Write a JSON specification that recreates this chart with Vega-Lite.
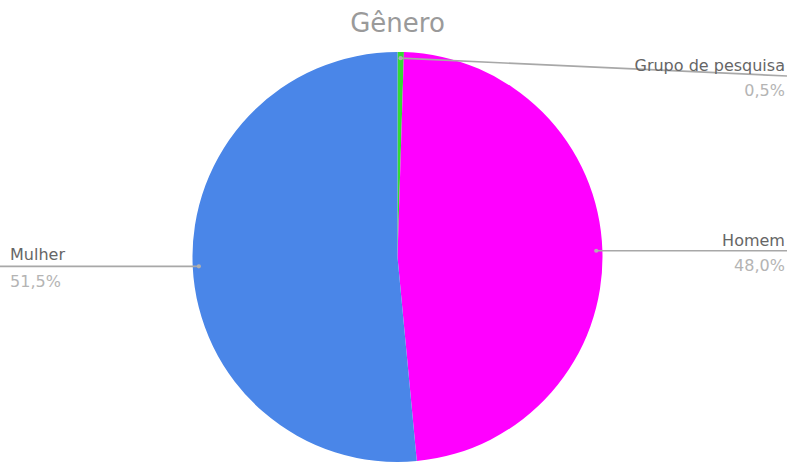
{
  "$schema": "https://vega.github.io/schema/vega-lite/v6.json",
  "width": 787,
  "height": 416,
  "autosize": "none",
  "padding": {"left": 4, "top": 49, "right": 0, "bottom": 0},
  "background": "white",
  "title": {
    "text": "Gênero",
    "font": "DejaVu Sans",
    "fontSize": 26,
    "fontWeight": "normal",
    "color": "#9a9a9a",
    "anchor": "middle",
    "baseline": "alphabetic",
    "offset": -9
  },
  "config": {
    "view": {"stroke": null},
    "locale": {"number": {"decimal": ",", "thousands": ".", "grouping": [3], "currency": ["R$", ""]}}
  },
  "data": {
    "values": [
      {"genero": "Grupo de pesquisa", "v": 0.005},
      {"genero": "Homem", "v": 0.48},
      {"genero": "Mulher", "v": 0.515}
    ]
  },
  "transform": [
    {"window": [{"op": "sum", "field": "v", "as": "cum"}], "sort": [{"field": "genero", "order": "ascending"}], "frame": [null, 0]},
    {"calculate": "(datum.cum - datum.v / 2) * 2 * PI", "as": "ang"},
    {"calculate": "0.97 * sin(datum.ang)", "as": "px"},
    {"calculate": "0.97 * cos(datum.ang)", "as": "py"},
    {"calculate": "min(datum.py, 0.883)", "as": "ly"},
    {"calculate": "datum.px >= 0 ? 1.9 : -1.939", "as": "ex"},
    {"calculate": "datum.px >= 0 ? 1.89 : -1.89", "as": "tx"}
  ],
  "layer": [
    {
      "mark": {"type": "arc", "outerRadius": 205, "stroke": null},
      "encoding": {
        "theta": {"field": "v", "type": "quantitative", "stack": true},
        "order": {"field": "genero", "sort": "ascending"},
        "color": {
          "field": "genero",
          "type": "nominal",
          "scale": {"domain": ["Grupo de pesquisa", "Homem", "Mulher"], "range": ["#35d935", "#ff00ff", "#4a86e8"]},
          "legend": null
        }
      }
    },
    {
      "mark": {"type": "rule", "color": "#a8a8a8", "strokeWidth": 1.6},
      "encoding": {
        "x": {"field": "px", "type": "quantitative", "scale": {"domain": [-1.9195, 1.9195], "nice": false, "zero": false}, "axis": null},
        "y": {"field": "py", "type": "quantitative", "scale": {"domain": [-1.01463, 1.01463], "nice": false, "zero": false}, "axis": null},
        "x2": {"field": "ex"},
        "y2": {"field": "ly"}
      }
    },
    {
      "mark": {"type": "circle", "color": "#b0b0b0", "size": 18, "opacity": 1},
      "encoding": {
        "x": {"field": "px", "type": "quantitative"},
        "y": {"field": "py", "type": "quantitative"}
      }
    },
    {
      "transform": [{"filter": "datum.px >= 0"}],
      "mark": {"type": "text", "align": "right", "baseline": "alphabetic", "dy": -5, "font": "DejaVu Sans", "fontSize": 16, "color": "#666666"},
      "encoding": {
        "x": {"field": "tx", "type": "quantitative"},
        "y": {"field": "ly", "type": "quantitative"},
        "text": {"field": "genero"}
      }
    },
    {
      "transform": [{"filter": "datum.px >= 0"}],
      "mark": {"type": "text", "align": "right", "baseline": "alphabetic", "dy": 20, "font": "DejaVu Sans", "fontSize": 16, "color": "#b4b4b4"},
      "encoding": {
        "x": {"field": "tx", "type": "quantitative"},
        "y": {"field": "ly", "type": "quantitative"},
        "text": {"field": "v", "format": ".1%"}
      }
    },
    {
      "transform": [{"filter": "datum.px < 0"}],
      "mark": {"type": "text", "align": "left", "baseline": "alphabetic", "dy": -6, "font": "DejaVu Sans", "fontSize": 16, "color": "#666666"},
      "encoding": {
        "x": {"field": "tx", "type": "quantitative"},
        "y": {"field": "ly", "type": "quantitative"},
        "text": {"field": "genero"}
      }
    },
    {
      "transform": [{"filter": "datum.px < 0"}],
      "mark": {"type": "text", "align": "left", "baseline": "alphabetic", "dy": 21, "font": "DejaVu Sans", "fontSize": 16, "color": "#b4b4b4"},
      "encoding": {
        "x": {"field": "tx", "type": "quantitative"},
        "y": {"field": "ly", "type": "quantitative"},
        "text": {"field": "v", "format": ".1%"}
      }
    }
  ]
}
